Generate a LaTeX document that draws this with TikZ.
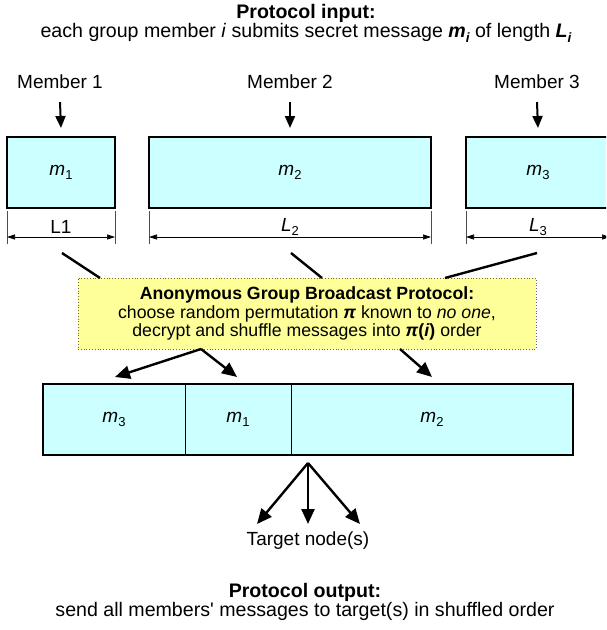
\documentclass[tikz,border=0pt]{standalone}
\usepackage{fontspec}
\setmainfont{Liberation Sans}
\usetikzlibrary{arrows.meta}
\definecolor{cyanfill}{HTML}{CCFFFF}
\definecolor{yellowfill}{HTML}{FFFF99}
\newcommand{\msgsub}[2]{{\itshape #1}\raisebox{-0.45ex}{\fontsize{13}{13}\selectfont #2}}
\begin{document}
\begin{tikzpicture}[x=1pt,y=-1pt,
  txt/.style={font=\fontsize{19}{19}\selectfont, inner sep=0pt, align=center},
  ttxt/.style={font=\fontsize{19.6}{19}\selectfont, inner sep=0pt, align=center},
  ytxt/.style={font=\fontsize{17.7}{18.5}\selectfont, inner sep=0pt, align=center},
  msg/.style={draw=black, line width=2.6pt, fill=cyanfill, outer sep=0pt, inner sep=0pt,
              font=\fontsize{19}{19}\selectfont},
  cell/.style={draw=black, line width=1pt, fill=cyanfill, outer sep=0pt, inner sep=0pt,
              minimum height=71pt, font=\fontsize{19}{19}\selectfont},
  bigarrow/.style={line width=2.4pt, -{Triangle[length=15pt,width=13pt]}},
  memarrow/.style={line width=2pt, -{Triangle[length=12pt,width=10pt]}},
  dimline/.style={line width=0.7pt, {Triangle[length=8pt,width=5pt]}-{Triangle[length=8pt,width=5pt]}},
  tickline/.style={line width=0.6pt, draw=black!70},
  feed/.style={line width=2.4pt},
]
\useasboundingbox (0,0) rectangle (606,630);
\clip (0,0) rectangle (606,630);

% title
\node[ttxt] (title) at (306,23.5) {\textbf{Protocol input:}\\each group member \textit{i} submits secret message \textbf{\textit{m\raisebox{-0.45ex}{\fontsize{13.5}{13.5}\selectfont i}}} of length \textbf{\textit{L\raisebox{-0.45ex}{\fontsize{13.5}{13.5}\selectfont i}}}};

% members
\node[txt] (mem1) at (60,82) {Member 1};
\node[txt] (mem2) at (290,82) {Member 2};
\node[txt] (mem3) at (537,82) {Member 3};

% message boxes
\node[msg, minimum width=108pt, minimum height=71pt] (m1) at (61,172.5) {\msgsub{m}{1}};
\node[msg, minimum width=282pt, minimum height=71pt] (m2) at (290,172.5) {\msgsub{m}{2}};
\node[msg, minimum width=144pt, minimum height=71pt] (m3) at (538,172.5) {\msgsub{m}{3}};

\draw[memarrow] ([yshift=-13pt]mem1.south) -- ([yshift=9pt]m1.north);
\draw[memarrow] ([yshift=-13pt]mem2.south) -- ([yshift=9pt]m2.north);
\draw[memarrow] ([yshift=-13pt]mem3.south) -- ([yshift=9pt]m3.north);

% dimension lines
\foreach \b in {m1,m2,m3}{
  \draw[tickline] ([yshift=-3pt]\b.south west) -- ([yshift=-36pt]\b.south west);
  \draw[tickline] ([yshift=-3pt]\b.south east) -- ([yshift=-36pt]\b.south east);
  \draw[dimline] ([yshift=-29pt]\b.south west) -- ([yshift=-29pt]\b.south east);
}
\node[txt] (l1) at (61,227) {L1};
\node[txt] (l2) at (290,227) {\msgsub{L}{2}};
\node[txt] (l3) at (538,227) {\msgsub{L}{3}};

% protocol box
\node[ytxt, draw=black!60, dotted, line width=0.8pt, fill=yellowfill,
      minimum width=458pt, minimum height=71pt] (agbp) at (307,313.5)
  {\textbf{Anonymous Group Broadcast Protocol:}\\
   choose random permutation \textbf{\textit{π}} known to \textit{no one},\\
   decrypt and shuffle messages into \textbf{\textit{π}(\textit{i})} order};

\coordinate (f1a) at (62,253);  \coordinate (f1b) at (100,278);
\coordinate (f2a) at (291,253); \coordinate (f2b) at (322,278);
\coordinate (f3a) at (537,253); \coordinate (f3b) at (445,278);
\draw[feed] (f1a) -- (f1b);
\draw[feed] (f2a) -- (f2b);
\draw[feed] (f3a) -- (f3b);

% shuffled bar
\node[cell, minimum width=142pt] (c3) at (114,419.5) {\msgsub{m}{3}};
\node[cell, minimum width=106pt] (c1) at (238,419.5) {\msgsub{m}{1}};
\node[cell, minimum width=282pt] (c2) at (432,419.5) {\msgsub{m}{2}};
\draw[line width=2.6pt] (c3.north west) rectangle (c2.south east);

\coordinate (s1) at (201,349);
\coordinate (s3) at (400,349);
\coordinate (e1) at (115,377);
\coordinate (e2) at (237,377);
\coordinate (e3) at (432,377);
\draw[bigarrow] (s1) -- (e1);
\draw[bigarrow] (s1) -- (e2);
\draw[bigarrow] (s3) -- (e3);

% targets
\node[txt] (tgt) at (308,541) {Target node(s)};
\coordinate (apex) at (308,463);
\coordinate (t1) at (257,524);
\coordinate (t2) at (308,524);
\coordinate (t3) at (360,524);
\draw[bigarrow] (apex) -- (t1);
\draw[bigarrow] (apex) -- (t2);
\draw[bigarrow] (apex) -- (t3);

% output
\node[ttxt] (out) at (305,601.5) {\textbf{Protocol output:}\\send all members\textquotesingle{} messages to target(s) in shuffled order};
\end{tikzpicture}
\end{document}
